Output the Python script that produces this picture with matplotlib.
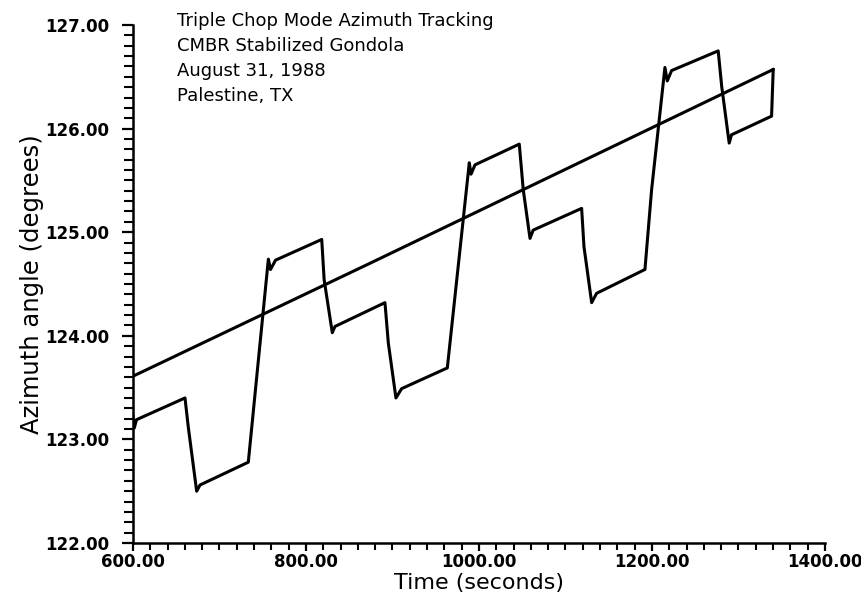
import matplotlib
matplotlib.use("Agg")
from matplotlib import pyplot as plt
from matplotlib.ticker import MultipleLocator, FormatStrFormatter

# reference line (straight drift of the target azimuth)
ref_t = [600.0, 874.0, 1340.0]
ref_az = [123.61, 124.70, 126.57]

# gondola azimuth during triple chop (vertices)
chop_t = [600.0, 601.5, 604.0, 660.1, 663.9, 673.6, 677.5, 733.3,
          756.5, 759.0, 764.8, 818.2, 821.0, 830.4, 833.5, 891.3,
          895.2, 904.0, 910.6, 963.4, 988.8, 990.8, 995.4, 1046.6,
          1051.2, 1059.0, 1062.7, 1118.7, 1121.4, 1130.3, 1136.0, 1191.9,
          1199.6, 1215.0, 1217.7, 1222.7, 1276.6, 1280.6, 1289.3, 1292.0,
          1338.3, 1340.2]
chop_az = [123.22, 123.11, 123.19, 123.40, 123.12, 122.50, 122.56, 122.78,
           124.74, 124.64, 124.73, 124.93, 124.54, 124.03, 124.09, 124.32,
           123.93, 123.40, 123.49, 123.69, 125.67, 125.56, 125.65, 125.85,
           125.41, 124.94, 125.02, 125.23, 124.86, 124.32, 124.41, 124.64,
           125.41, 126.59, 126.46, 126.56, 126.75, 126.41, 125.86, 125.94,
           126.12, 126.57]

title_lines = ["Triple Chop Mode Azimuth Tracking",
               "CMBR Stabilized Gondola",
               "August 31, 1988",
               "Palestine, TX"]

fig = plt.figure(figsize=(8.62, 6.02), dpi=100)
ax = fig.add_axes([0.1543, 0.098, 0.8027, 0.8605])

ax.plot(ref_t, ref_az, color="black", lw=2.2)
ax.plot(chop_t, chop_az, color="black", lw=2.2)

ax.set_xlim(600, 1400)
ax.set_ylim(122, 127)
ax.xaxis.set_major_locator(MultipleLocator(200))
ax.xaxis.set_minor_locator(MultipleLocator(20))
ax.yaxis.set_major_locator(MultipleLocator(1))
ax.yaxis.set_minor_locator(MultipleLocator(0.1))
ax.xaxis.set_major_formatter(FormatStrFormatter("%.2f"))
ax.yaxis.set_major_formatter(FormatStrFormatter("%.2f"))

ax.spines["top"].set_visible(False)
ax.spines["right"].set_visible(False)
ax.spines["left"].set_linewidth(1.8)
ax.spines["bottom"].set_linewidth(1.8)
ax.tick_params(which="both", direction="out", colors="black")
ax.tick_params(axis="x", which="major", length=6, width=1.6, pad=1.5)
ax.tick_params(axis="x", which="minor", length=5, width=1.5)
ax.tick_params(axis="y", which="major", length=8, width=1.6, pad=9)
ax.tick_params(axis="y", which="minor", length=6.5, width=1.5)
for lab in ax.get_xticklabels() + ax.get_yticklabels():
    lab.set_fontsize(12)
    lab.set_fontweight("bold")

ax.set_xlabel("Time (seconds)", fontsize=16, labelpad=1)
ax.set_ylabel("Azimuth angle (degrees)", fontsize=17.5, labelpad=1)

ax.text(0.064, 1.025, "\n".join(title_lines), transform=ax.transAxes,
        ha="left", va="top", fontsize=13, linespacing=1.5)

fig.savefig("out.png", dpi=100)
